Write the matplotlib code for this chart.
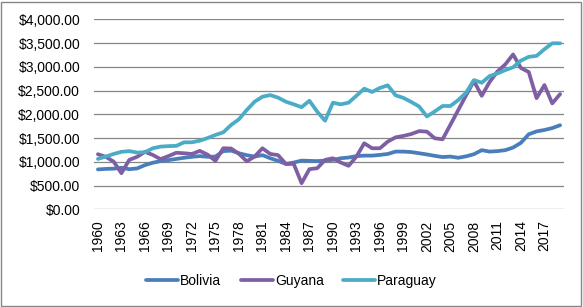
import matplotlib
matplotlib.use("Agg")
import matplotlib.pyplot as plt
from matplotlib.patches import Rectangle
from matplotlib.ticker import FuncFormatter

years = list(range(1960, 2020))

bolivia = [840, 850, 855, 875, 845, 860, 930, 980, 1015, 1035,
           1060, 1085, 1105, 1120, 1105, 1110, 1225, 1235, 1180, 1140,
           1110, 1140, 1075, 1020, 955, 985, 1025, 1020, 1015, 1025,
           1040, 1075, 1090, 1120, 1130, 1130, 1145, 1165, 1215, 1215,
           1205, 1180, 1155, 1125, 1100, 1110, 1085, 1115, 1160, 1245,
           1215, 1225, 1245, 1300, 1400, 1580, 1640, 1670, 1710, 1770]

guyana = [1160, 1105, 1005, 760, 1040, 1105, 1210, 1145, 1055, 1120,
          1190, 1180, 1165, 1230, 1150, 1020, 1285, 1280, 1170, 1010,
          1110, 1285, 1165, 1140, 955, 955, 550, 845, 865, 1040,
          1075, 985, 915, 1110, 1390, 1285, 1285, 1425, 1515, 1545,
          1585, 1645, 1635, 1495, 1475, 1780, 2090, 2400, 2700, 2390,
          2680, 2900, 3050, 3260, 2975, 2890, 2340, 2615, 2230, 2425]

paraguay = [1060, 1110, 1165, 1210, 1225, 1195, 1200, 1285, 1320, 1330,
            1335, 1410, 1410, 1445, 1500, 1565, 1620, 1775, 1895, 2090,
            2265, 2370, 2405, 2350, 2265, 2210, 2150, 2285, 2055, 1865,
            2245, 2210, 2245, 2390, 2540, 2470, 2555, 2610, 2400, 2345,
            2260, 2165, 1955, 2060, 2175, 2175, 2300, 2455, 2720, 2665,
            2805, 2860, 2930, 2990, 3130, 3210, 3230, 3370, 3495, 3495]

series = [("Bolivia", bolivia, "#4a7ebb"),
          ("Guyana", guyana, "#7e5fa3"),
          ("Paraguay", paraguay, "#4bacc6")]

plt.rcParams["font.family"] = ["Liberation Sans", "DejaVu Sans"]

fig = plt.figure(figsize=(5.83, 3.07), dpi=100)
ax = fig.add_axes([94 / 583, 1 - 209.3 / 307, 470 / 583, 190 / 307])

x = list(range(len(years)))
for name, vals, col in series:
    ax.plot(x, vals, color=col, lw=2.7, label=name,
            solid_joinstyle="round", solid_capstyle="round")

ax.set_xlim(-0.5, len(years) - 0.5)
ax.set_ylim(0, 4000)
ax.set_yticks(range(0, 4001, 500))
ax.yaxis.set_major_formatter(FuncFormatter(lambda v, p: "${:,.2f}".format(v)))
ax.set_xticks(x[::3])
ax.set_xticklabels([str(y) for y in years[::3]], rotation=90)

ax.grid(axis="y", color="#868686", lw=0.9)
ax.set_axisbelow(True)
for s in ax.spines.values():
    s.set_visible(False)
ax.tick_params(axis="y", length=0, pad=10, labelsize=10)
ax.tick_params(axis="x", length=0, pad=8, labelsize=10)

fig.legend(loc="center", bbox_to_anchor=(0.5, 1 - 280.7 / 307), ncol=3,
           frameon=False, fontsize=10, handlelength=2.3, handletextpad=0.15,
           columnspacing=1.4)

fig.patches.append(Rectangle((1 / 583, 1 / 307), 580 / 583, 304 / 307,
                             transform=fig.transFigure, fill=False,
                             edgecolor="#868686", lw=1))

fig.savefig("out.png", dpi=100)
